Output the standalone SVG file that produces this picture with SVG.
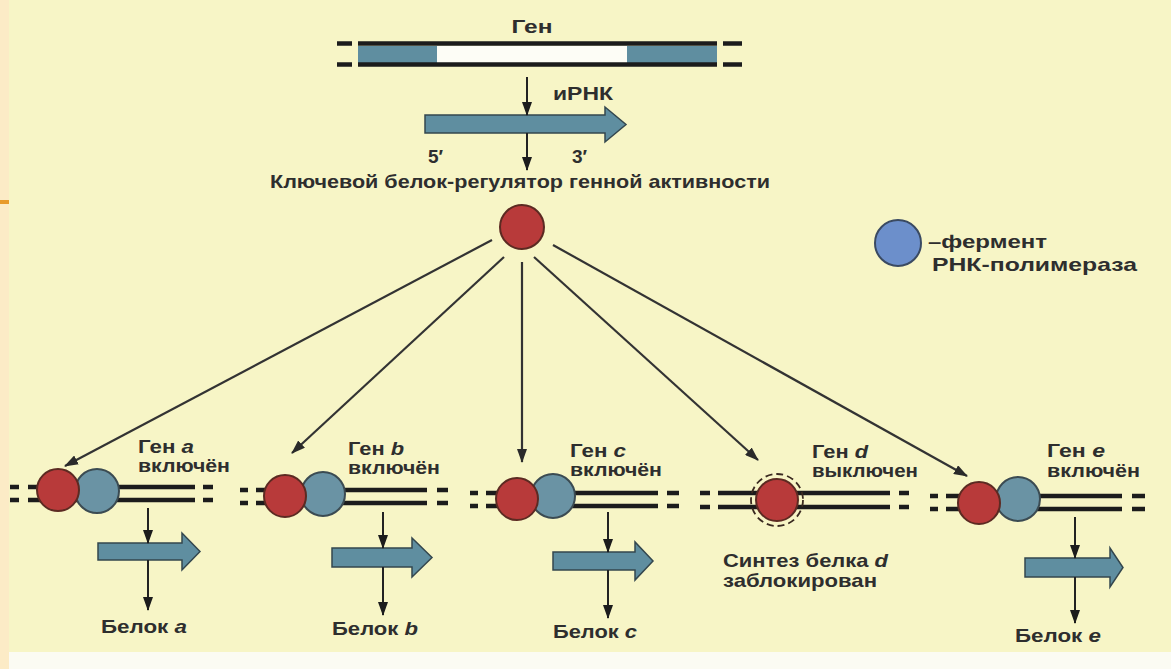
<svg xmlns="http://www.w3.org/2000/svg" width="1171" height="669" viewBox="0 0 1171 669">
<defs>
<style>
.t{font-family:"Liberation Sans",Arial,sans-serif;font-weight:bold;font-size:19px;fill:#2e2e2e}
.i{font-style:italic}
.strand{stroke:#1c1c1c;stroke-width:4.5;fill:none}
.red{fill:#b83a3a;stroke:#5c2a22;stroke-width:2}
.blue{fill:#6a93a4;stroke:#3b4b52;stroke-width:2}
.rna{fill:#5f8ea0;stroke:#34474e;stroke-width:1.5}
.con{stroke:#333;stroke-width:2.2;fill:none}
.sm{stroke:#222;stroke-width:2;fill:none}
</style>
<marker id="ah" viewBox="0 0 14 10" refX="13" refY="5" markerWidth="14" markerHeight="10" markerUnits="userSpaceOnUse" orient="auto">
<path d="M0,0 L14,5 L0,10 z" fill="#2a2a2a"/>
</marker>
<marker id="as" viewBox="0 0 10 14" refX="5" refY="13" markerWidth="10" markerHeight="14" markerUnits="userSpaceOnUse" orient="0">
<path d="M0,0 L10,0 L5,14 z" fill="#1c1c1c"/>
</marker>
</defs>
<rect width="1171" height="669" fill="#f7f5c6"/>
<rect x="0" y="0" width="9" height="669" fill="#fcebc6"/>
<rect x="0" y="200" width="9" height="4" fill="#e89a2a"/>
<rect x="9" y="652" width="1162" height="17" fill="#fbfbf3"/>

<g id="gene-top">
<rect x="358" y="46" width="359" height="17" fill="#fdfdf6"/>
<rect x="358" y="46" width="79" height="17" fill="#5f8ea0"/>
<rect x="627" y="46" width="90" height="17" fill="#5f8ea0"/>
<path class="strand" d="M358,43.5H717M358,64.5H717M337,43.5H352M337,64.5H352M723,43.5H742M723,64.5H742"/>
<text class="t" x="532" y="33" text-anchor="middle" textLength="41" lengthAdjust="spacingAndGlyphs">Ген</text>
</g>

<g id="mrna-top">
<polygon class="rna" points="425,115 605,115 605,107 626,124.5 605,142 605,133 425,133"/>
<text class="t" x="553" y="100" textLength="60" lengthAdjust="spacingAndGlyphs">иРНК</text>
<text class="t" x="428" y="163">5′</text>
<text class="t" x="572" y="163">3′</text>
</g>

<g id="regulator">
<text class="t" x="270" y="188" textLength="500" lengthAdjust="spacingAndGlyphs">Ключевой белок-регулятор генной активности</text>
<circle class="red" cx="522" cy="227" r="22"/>
</g>

<g id="legend">
<circle cx="898" cy="243" r="23" fill="#6c8fcb" stroke="#3a4a62" stroke-width="2"/>
<text class="t" x="928" y="248" textLength="119" lengthAdjust="spacingAndGlyphs">–фермент</text>
<text class="t" x="932" y="271" textLength="205" lengthAdjust="spacingAndGlyphs">РНК-полимераза</text>
</g>

<g id="gene-a">
<path class="strand" d="M28,487H195M28,500H195M10,487H19M10,500H19M203,487H213M203,500H213"/>
<circle class="blue" cx="97" cy="491" r="22"/>
<circle class="red" cx="58" cy="490" r="21"/>
<text class="t" x="138" y="453" textLength="56" lengthAdjust="spacingAndGlyphs">Ген <tspan class="i">a</tspan></text>
<text class="t" x="138" y="472" textLength="92" lengthAdjust="spacingAndGlyphs">включён</text>
<polygon class="rna" points="98,543 182,543 182,533 200,551.5 182,570 182,560 98,560"/>
<text class="t" x="101" y="633" textLength="86" lengthAdjust="spacingAndGlyphs">Белок <tspan class="i">a</tspan></text>
</g>

<g id="gene-b">
<path class="strand" d="M256,490H427M256,503H427M240,490H248M240,503H248M437,490H448M437,503H448"/>
<circle class="blue" cx="323" cy="494" r="22"/>
<circle class="red" cx="285" cy="496" r="21"/>
<text class="t" x="348" y="455" textLength="56" lengthAdjust="spacingAndGlyphs">Ген <tspan class="i">b</tspan></text>
<text class="t" x="348" y="474" textLength="92" lengthAdjust="spacingAndGlyphs">включён</text>
<polygon class="rna" points="332,548 412,548 412,538 432,557.5 412,577 412,567 332,567"/>
<text class="t" x="332" y="635" textLength="86" lengthAdjust="spacingAndGlyphs">Белок <tspan class="i">b</tspan></text>
</g>

<g id="gene-c">
<path class="strand" d="M486,493H658M486,506H658M470,493H478M470,506H478M667,493H679M667,506H679"/>
<circle class="blue" cx="553" cy="496" r="22"/>
<circle class="red" cx="517" cy="499" r="21"/>
<text class="t" x="570" y="457" textLength="56" lengthAdjust="spacingAndGlyphs">Ген <tspan class="i">c</tspan></text>
<text class="t" x="570" y="476" textLength="92" lengthAdjust="spacingAndGlyphs">включён</text>
<polygon class="rna" points="553,552 635,552 635,542 653,561 635,580 635,570 553,570"/>
<text class="t" x="553" y="638" textLength="84" lengthAdjust="spacingAndGlyphs">Белок <tspan class="i">c</tspan></text>
</g>

<g id="gene-d">
<path class="strand" d="M718,493H890M718,507H890M700,493H710M700,507H710M899,493H909M899,507H909"/>
<circle cx="777" cy="500" r="26" fill="none" stroke="#3a2a20" stroke-width="1.8" stroke-dasharray="7,4"/>
<circle class="red" cx="777" cy="500" r="21"/>
<text class="t" x="812" y="458" textLength="56" lengthAdjust="spacingAndGlyphs">Ген <tspan class="i">d</tspan></text>
<text class="t" x="812" y="477" textLength="106" lengthAdjust="spacingAndGlyphs">выключен</text>
<text class="t" x="723" y="567" textLength="165" lengthAdjust="spacingAndGlyphs">Синтез белка <tspan class="i">d</tspan></text>
<text class="t" x="723" y="587" textLength="154" lengthAdjust="spacingAndGlyphs">заблокирован</text>
</g>

<g id="gene-e">
<path class="strand" d="M946,496H1122M946,509H1122M930,496H938M930,509H938M1132,496H1145M1132,509H1145"/>
<circle class="blue" cx="1018" cy="499" r="22"/>
<circle class="red" cx="979" cy="503" r="21"/>
<text class="t" x="1047" y="457" textLength="58" lengthAdjust="spacingAndGlyphs">Ген <tspan class="i">e</tspan></text>
<text class="t" x="1047" y="477" textLength="93" lengthAdjust="spacingAndGlyphs">включён</text>
<polygon class="rna" points="1025,558 1110,558 1110,548 1123,567.5 1110,587 1110,577 1025,577"/>
<text class="t" x="1015" y="642" textLength="86" lengthAdjust="spacingAndGlyphs">Белок <tspan class="i">e</tspan></text>
</g>

<g id="connectors">
<line class="con" x1="492" y1="240" x2="65" y2="466" marker-end="url(#ah)"/>
<line class="con" x1="504" y1="257" x2="292" y2="453" marker-end="url(#ah)"/>
<line class="con" x1="522" y1="262" x2="522" y2="462" marker-end="url(#ah)"/>
<line class="con" x1="534" y1="257" x2="758" y2="460" marker-end="url(#ah)"/>
<line class="con" x1="553" y1="245" x2="967" y2="476" marker-end="url(#ah)"/>
<line class="sm" x1="527" y1="77" x2="527" y2="115" marker-end="url(#as)"/>
<line class="sm" x1="527" y1="133" x2="527" y2="170" marker-end="url(#as)"/>
<line class="sm" x1="148" y1="508" x2="148" y2="543" marker-end="url(#as)"/>
<line class="sm" x1="148" y1="560" x2="148" y2="610" marker-end="url(#as)"/>
<line class="sm" x1="383" y1="512" x2="383" y2="548" marker-end="url(#as)"/>
<line class="sm" x1="383" y1="567" x2="383" y2="615" marker-end="url(#as)"/>
<line class="sm" x1="608" y1="512" x2="608" y2="552" marker-end="url(#as)"/>
<line class="sm" x1="608" y1="570" x2="608" y2="618" marker-end="url(#as)"/>
<line class="sm" x1="1075" y1="517" x2="1075" y2="558" marker-end="url(#as)"/>
<line class="sm" x1="1075" y1="577" x2="1075" y2="623" marker-end="url(#as)"/>
</g>
</svg>
